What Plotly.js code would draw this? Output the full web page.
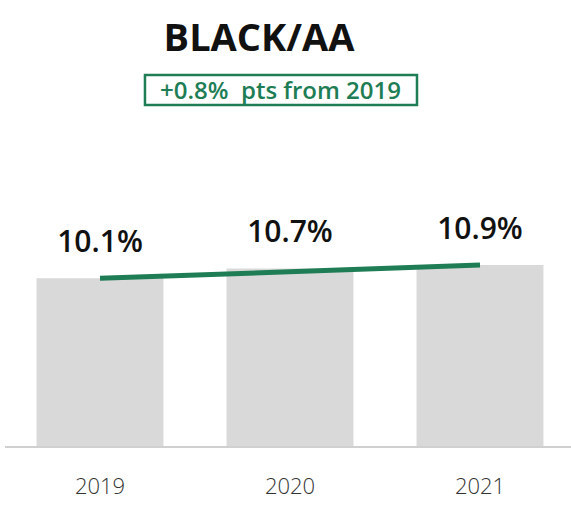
<!DOCTYPE html>
<html>
<head>
<meta charset="utf-8">
<script src="https://cdn.plot.ly/plotly-3.0.1.min.js"></script>
<style>html,body{margin:0;padding:0;background:#fff;}#chart{width:571px;height:508px;}</style>
</head>
<body>
<div id="chart"></div>
<script>
const years = ['2019', '2020', '2021'];
const shares = [10.1, 10.7, 10.9];
const valueLabels = ['10.1%', '10.7%', '10.9%'];
const trendYears = ['2019', '2021'];
const trendValues = [10.1, 10.9];
const chartTitle = 'BLACK/AA';
const changeNote = '+0.8%&nbsp; pts from 2019';

const green = '#1e7d55';

const bars = {
  type: 'bar',
  x: years,
  y: shares,
  textposition: 'none',
  marker: {color: '#d9d9d9'},
  hoverinfo: 'skip'
};
const trend = {
  type: 'scatter',
  mode: 'lines',
  x: trendYears,
  y: trendValues,
  line: {color: green, width: 5},
  hoverinfo: 'skip'
};
const labels = {
  type: 'scatter',
  mode: 'markers+text',
  x: years,
  y: shares,
  text: valueLabels,
  textposition: 'top center',
  marker: {size: 28, color: 'rgba(0,0,0,0)'},
  textfont: {family: 'Open Sans', size: 30, color: '#111', weight: 600},
  hoverinfo: 'skip',
  cliponaxis: false
};

const layout = {
  width: 571, height: 508,
  margin: {l: 5, r: 0, t: 130, b: 62},
  paper_bgcolor: '#fff', plot_bgcolor: '#fff',
  showlegend: false,
  bargap: 0.332,
  title: {
    text: chartTitle, x: 0.4536, xanchor: 'center', y: 1 - 38/508, yanchor: 'middle',
    font: {family: 'Open Sans', size: 38, color: '#111', weight: 700}
  },
  xaxis: {
    type: 'category', range: [-0.5, 2.479],
    showline: true, linecolor: '#d0d0d0', linewidth: 2,
    showgrid: false, zeroline: false, ticks: '',
    ticklabelstandoff: 20,
    tickfont: {family: 'Open Sans', size: 22, color: '#333', weight: 300},
    fixedrange: true
  },
  yaxis: {
    range: [0, 19.04], visible: false, showgrid: false, zeroline: false, fixedrange: true
  },
  shapes: [{
    type: 'rect', xref: 'paper', yref: 'paper',
    x0: 0.2473, x1: 0.7279, y0: 1.0791, y1: 1.1741,
    line: {color: green, width: 2.5}, fillcolor: 'rgba(0,0,0,0)'
  }],
  annotations: [{
    x: 0.4876, y: 1.1266, xref: 'paper', yref: 'paper',
    xanchor: 'center', yanchor: 'middle',
    text: changeNote, showarrow: false,
    font: {family: 'Open Sans', size: 24, color: green, weight: 600}
  }]
};

Plotly.newPlot('chart', [bars, trend, labels], layout, {displayModeBar: false, staticPlot: true});
</script>
</body>
</html>
